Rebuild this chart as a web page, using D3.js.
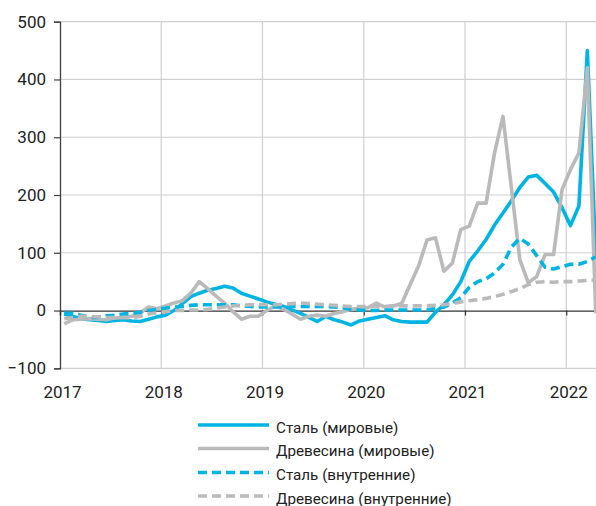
<!DOCTYPE html>
<html><head><meta charset="utf-8">
<script src="https://cdn.jsdelivr.net/npm/d3@7"></script>
<style>
html,body{margin:0;padding:0;background:#fff;}
svg{display:block;font-family:Roboto,"Noto Sans",sans-serif;}
</style></head>
<body>
<svg id="chart" width="596" height="506"></svg>
<script>
// Monthly, Jan 2017 – Apr 2022 (64 months), % change
const yearLabels = ["2017","2018","2019","2020","2021","2022"];
const yTicks = [-100, 0, 100, 200, 300, 400, 500];
const seriesNames = ["Сталь (мировые)","Древесина (мировые)","Сталь (внутренние)","Древесина (внутренние)"];

const steelWorld = [-6,-10,-14,-16,-17,-19,-17,-16,-18,-19,-15,-11,
  -8,0,12,24,30,35,38,42,39,30,25,20,
  15,11,7,1,-5,-12,-19,-10,-16,-20,-25,-18,
  -15,-12,-9,-16,-19,-20,-20,-20,-3,10,27,50,
  85,103,123,148,169,190,213,231,234,220,205,178,
  147,181,450,95];
const woodWorld = [-23,-16,-15,-14,-15,-16,-13,-12,-10,-4,6,3,
  8,13,17,30,50,38,25,13,-2,-15,-10,-10,
  0,8,2,-6,-15,-10,-8,-10,-5,-2,2,4,
  5,13,6,8,12,45,77,122,126,68,82,140,
  146,186,186,273,336,212,88,48,59,97,97,209,
  244,273,420,-5];
const steelDomestic = [-5,-5,-8,-12,-12,-9,-8,-6,-5,-3,0,2,
  4,6,7,9,10,10,10,10,10,8,7,6,
  6,6,6,7,7,7,7,7,6,5,2,1,
  0,0,1,1,1,1,1,1,4,6,13,22,
  40,50,55,65,80,110,125,115,95,75,72,76,
  80,80,85,93];
const woodDomestic = [-14,-12,-10,-10,-11,-12,-12,-12,-13,-10,-6,-4,
  -2,0,0,1,1,2,4,6,8,9,10,10,
  10,10,11,12,13,12,11,10,9,8,7,7,
  7,7,7,8,8,8,8,8,9,10,12,15,
  17,19,21,24,28,33,38,45,49,50,49,50,
  50,51,52,53];

const colors = ["#00b4e4","#bababa","#00b4e4","#bababa"];
const dashes = [null, null, "9,5", "9,5"];
const allSeries = [steelWorld, woodWorld, steelDomestic, woodDomestic];

const svg = d3.select("#chart");
const x = d3.scaleLinear().domain([0, 64]).range([60, 600]);
const y = d3.scaleLinear().domain([-100, 500]).range([368.3, 21.7]);

// horizontal grid
svg.append("g").selectAll("line").data(yTicks.filter(d=>d!==0)).join("line")
  .attr("x1", 60).attr("x2", 600)
  .attr("y1", d=>y(d)).attr("y2", d=>y(d))
  .attr("stroke", "#d0d0d0").attr("stroke-width", 1.2);
// vertical grid
svg.append("g").selectAll("line").data(yearLabels.slice(1)).join("line")
  .attr("x1", (d,i)=>x((i+1)*12)).attr("x2", (d,i)=>x((i+1)*12))
  .attr("y1", y(500)).attr("y2", y(-100))
  .attr("stroke", "#d0d0d0").attr("stroke-width", 1.2);

// y axis
const yAxis = d3.axisLeft(y).tickValues(yTicks).tickSize(6).tickPadding(8);
const gy = svg.append("g").attr("transform", "translate(60,0)").call(yAxis);
gy.select(".domain").attr("stroke", "#404040").attr("stroke-width", 1.3);
gy.selectAll(".tick line").attr("stroke", "#404040").attr("stroke-width", 1.2);
gy.selectAll(".tick text").attr("font-size", 17).attr("fill", "#222")
  .attr("font-family", "Roboto, sans-serif");

// zero line (x axis) with ticks below
const xAxis = d3.axisBottom(x).tickValues(d3.range(0, 61, 12)).tickSize(5).tickFormat("");
const gx = svg.append("g").attr("transform", `translate(0,${y(0)})`).call(xAxis);
gx.select(".domain").attr("stroke", "#333").attr("stroke-width", 1.3);
gx.selectAll(".tick line").attr("stroke", "#333").attr("stroke-width", 1.2);

// year labels at bottom
svg.append("g").selectAll("text").data(yearLabels).join("text")
  .attr("x", (d,i)=>x(i*12)+2.5).attr("y", 397.5)
  .attr("text-anchor", "middle").attr("font-size", 17).attr("fill", "#222")
  .text(d=>d);

// lines
const line = d3.line().x((d,i)=>x(i+0.5)).y(d=>y(d)).curve(d3.curveLinear);
allSeries.forEach((s, k) => {
  svg.append("path").datum(s)
    .attr("d", line)
    .attr("fill", "none")
    .attr("stroke", colors[k])
    .attr("stroke-width", 3.6)
    .attr("stroke-linejoin", "round")
    .attr("stroke-dasharray", dashes[k]);
});

// legend
const legY = [425, 448.5, 472.5, 496];
const leg = svg.append("g").selectAll("g").data(seriesNames).join("g")
  .attr("transform", (d,i)=>`translate(0,${legY[i]})`);
leg.append("line").attr("x1", 198).attr("x2", 269).attr("y1", 0).attr("y2", 0)
  .attr("stroke", (d,i)=>colors[i]).attr("stroke-width", 3.6)
  .attr("stroke-dasharray", (d,i)=>dashes[i]);
leg.append("text").attr("x", 276).attr("y", 7.5).attr("font-size", 15.2).attr("fill", "#222")
  .text(d=>d);
</script>
</body></html>
